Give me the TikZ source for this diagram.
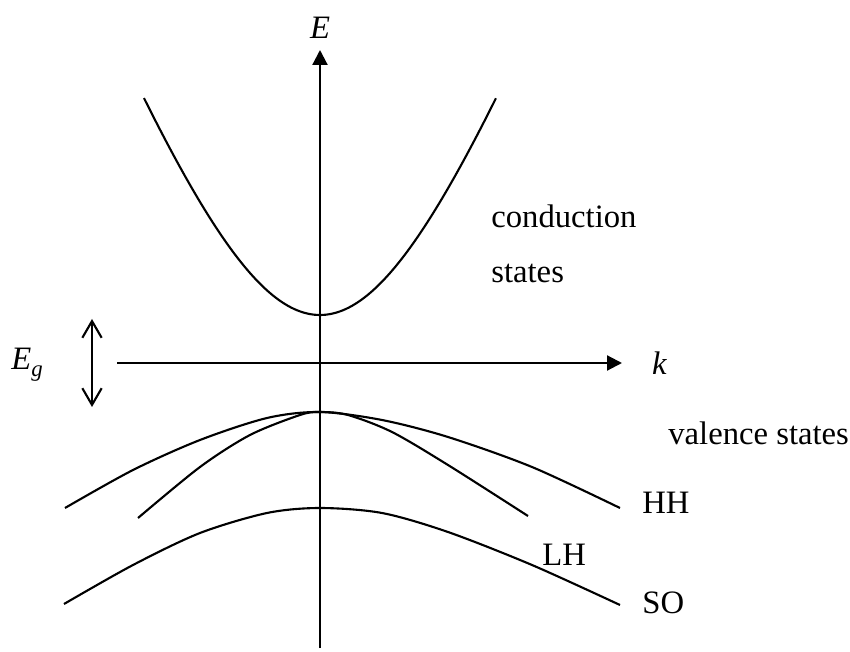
\documentclass[tikz,border=0pt]{standalone}
\usepackage{fontspec}
\setmainfont{Liberation Serif}
\usetikzlibrary{positioning, arrows.meta}

\begin{document}
\begin{tikzpicture}[x=0.02cm, y=-0.02cm, >=Stealth,
    font=\fontsize{18.6}{31}\selectfont,
    axis/.style={line width=1.25pt, -{Triangle[length=8.5pt, width=8.5pt]}},
    band/.style={line width=1.2pt},
    gaparrow/.style={line width=1.2pt, {Straight Barb[length=9.5pt, width=11pt]}-{Straight Barb[length=9.5pt, width=11pt]}},
    lbl/.style={inner sep=0pt, anchor=west}]
  \useasboundingbox (0,0) rectangle (850,652);

  % axes
  \coordinate (Ebot) at (320,648);
  \coordinate (Etop) at (320,50);
  \coordinate (kleft) at (117,363);
  \coordinate (kright) at (622,363);
  \draw[axis] (Ebot) -- (Etop);
  \draw[axis] (kleft) -- (kright);
  \node[above=6.5pt of Etop, inner sep=0pt] (Elab) {\textit{E}};
  \node[right=17pt of kright, inner sep=0pt] (klab) {\textit{k}};

  % band gap
  \coordinate (gtop) at (92,319);
  \coordinate (gbot) at (92,407);
  \draw[gaparrow] (gbot) -- (gtop);
  \node[inner sep=0pt] (Eglab) at (27,365)
    {\textit{E}\raisebox{-0.45ex}{\fontsize{13}{13}\selectfont\textit{g}}};

  % conduction band
  \draw[band] plot[domain=-1.76:1.76, samples=61, smooth]
    ({320+100*\x}, {315-100*(sqrt(13.69+6.7*\x*\x)-3.7)});

  % valence bands
  \draw[band] plot[smooth] coordinates {(65,508) (133,470) (200,440) (267,418)
    (320,412) (382,420) (448,437) (532,467) (620,508)};
  \draw[band] plot[smooth] coordinates {(138,518) (200,467) (250,435) (300,415)
    (320,412) (348,415) (392,432) (448,465) (528,516)};
  \draw[band] plot[smooth] coordinates {(64,604) (133,565) (200,533) (267,513)
    (320,508) (382,513) (448,532) (532,565) (620,605)};

  % labels
  \node[lbl, align=left] (cond) at (491,244) {conduction\\states};
  \node[lbl] (val) at (668,433) {valence states};
  \node[lbl] (hh) at (642,503) {HH};
  \node[lbl] (lh) at (542,555) {LH};
  \node[lbl] (so) at (642,603) {SO};
\end{tikzpicture}
\end{document}
